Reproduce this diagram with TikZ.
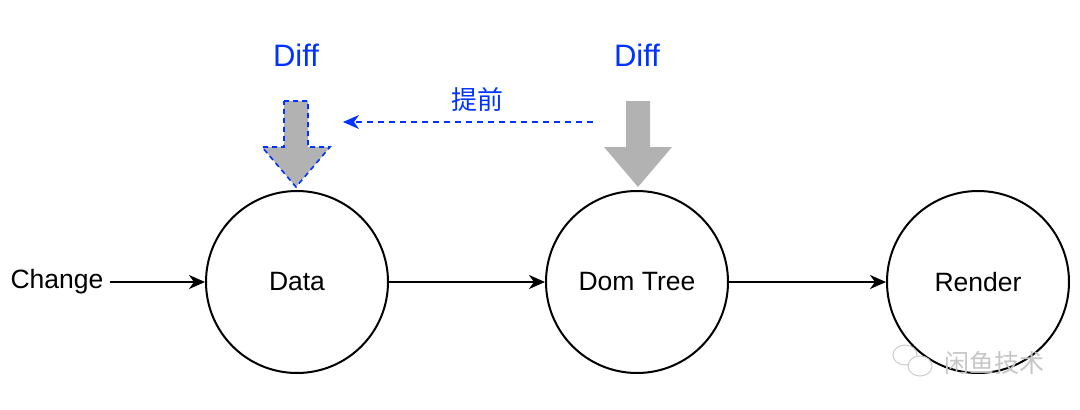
\documentclass[tikz,border=0pt]{standalone}
\usepackage{fontspec}
\setmainfont{Liberation Sans}
\newfontfamily\cjk{Noto Sans CJK SC}
\usetikzlibrary{arrows.meta,positioning}
\definecolor{diffblue}{RGB}{0,51,255}
\definecolor{blockgray}{RGB}{178,178,178}
\tikzset{
  stage/.style = {
    circle, draw, line width=2pt, minimum size=182pt, inner sep=0pt,
    font=\fontsize{26.5}{26.5}\selectfont
  },
  flow/.style = {-{Stealth[length=16pt,width=14pt,inset=5pt]}, line width=1.8pt},
  difflabel/.style = {text=diffblue, font=\fontsize{31}{31}\selectfont},
  earlier/.style = {
    diffblue, dash pattern=on 6pt off 5pt, line width=1.6pt,
    -{Stealth[length=16pt,width=14pt,inset=5pt]}
  },
  pics/diffarrow/.style = {
    code = {
      \path[pic actions] (-12,101) -- (12,101) -- (12,147) -- (34,147)
        -- (0,187) -- (-34,147) -- (-12,147) -- cycle;
    }
  }
}
\tikzset{>=latex}

\begin{document}
\begin{tikzpicture}[x=1pt,y=-1pt]
  \useasboundingbox (0,0) rectangle (1080,410);
  % stages
  \node[stage] (data) at (297,282) {Data};
  \node[stage] (dom) at (637,282) {Dom Tree};
  \node[stage] (render) at (978,282) {Render};
  \node[font=\fontsize{26.5}{26.5}\selectfont, inner sep=6pt] (change) at (57,282) {Change};
  \draw[flow] (change) -- (data);
  \draw[flow] (data) -- (dom);
  \draw[flow] (dom) -- (render);
  % diff arrows
  \node[difflabel] (diffdata) at (296,55) {Diff};
  \node[difflabel] (diffdom) at (637,55) {Diff};
  \pic[fill=blockgray, draw=diffblue, line width=1.6pt, dash pattern=on 5pt off 4pt] at (296,0) {diffarrow};
  \pic[fill=blockgray] at (638,0) {diffarrow};
  \coordinate (from) at (593,122);
  \coordinate (to) at (343,122);
  \draw[earlier] (from) -- (to);
  \node[text=diffblue, font=\cjk\fontsize{26}{26}\selectfont] (ahead) at (477,100) {提前};
  % watermark
  \draw[gray!40, line width=1pt] (905,355) ellipse (12pt and 10pt);
  \draw[gray!40, line width=1pt, fill=white] (920,366) ellipse (12pt and 10pt);
  \node[text=gray!45, font=\cjk\fontsize{25}{25}\selectfont] (mark) at (994,363) {闲鱼技术};
\end{tikzpicture}
\end{document}
